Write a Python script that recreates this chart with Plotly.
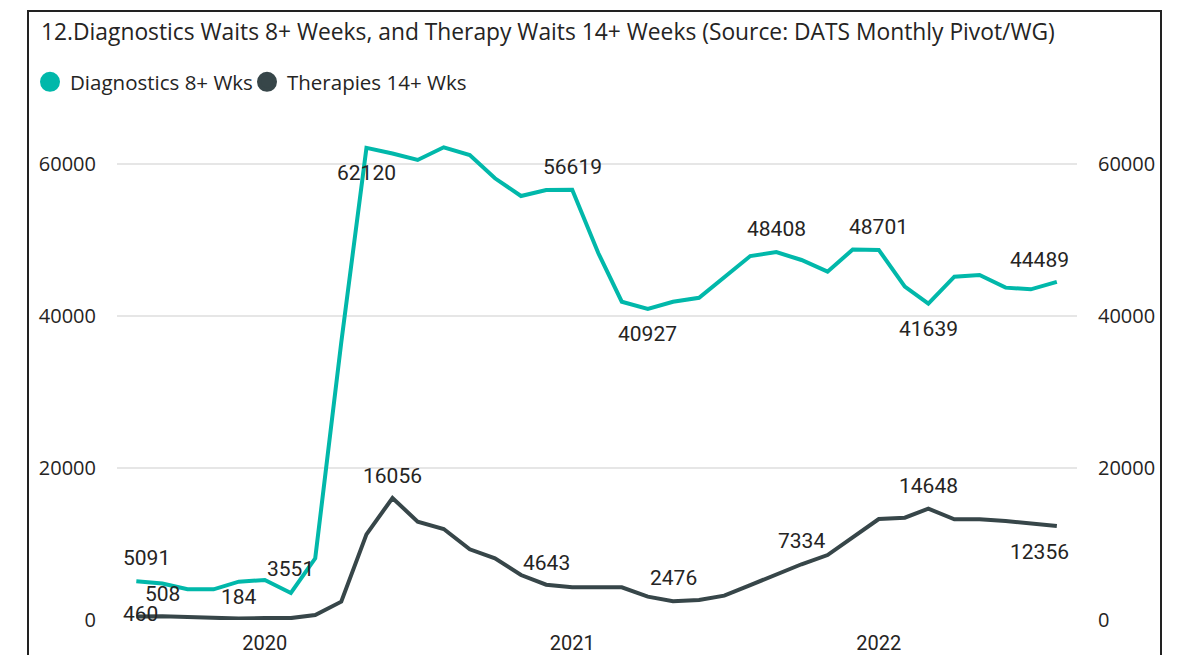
import pandas as pd
import plotly.graph_objects as go

# ---------------- data ----------------
months = pd.date_range("2019-08-01", periods=37, freq="MS")

diagnostics = [5091, 4800, 4040, 4040, 5040, 5260, 3551, 8110, 36500, 62120,
               61380, 60530, 62200, 61180, 58120, 55790, 56580, 56619, 48290, 41880,
               40927, 41880, 42400, 45170, 47890, 48408, 47370, 45830, 48750, 48701,
               43860, 41639, 45170, 45390, 43730, 43510, 44489]

therapies = [460, 508, 400, 250, 184, 250, 250, 650, 2410, 11270,
             16056, 12940, 11970, 9300, 8120, 5920, 4643, 4300, 4300, 4300,
             3070, 2476, 2630, 3200, 4600, 6050, 7334, 8550, 10880, 13290,
             13460, 14648, 13250, 13250, 13030, 12720, 12356]

diag_label_idx = [0, 6, 9, 17, 20, 25, 29, 31, 36]
ther_label_idx = [0, 1, 4, 10, 16, 21, 26, 31, 36]

y_ticks = [0, 20000, 40000, 60000]
series_names = ["Diagnostics 8+ Wks", "Therapies 14+ Wks"]
title_text = "12.Diagnostics Waits 8+ Weeks, and Therapy Waits 14+ Weeks (Source: DATS Monthly Pivot/WG)"

# ---------------- styles ----------------
TEAL = "#01B8AA"
DARK = "#374649"
TXT = "#252423"
UI_FONT = "Open Sans"
LBL_FONT = "Roboto"

# label placement (style): yshift / xshift in px
diag_label_pos = {0: (23, 10), 6: (24, 0), 9: (-25, 0), 17: (23, 0), 20: (-25, 0),
                  25: (23, 0), 29: (23, 0), 31: (-25, 0), 36: (22, -17)}
ther_label_pos = {0: (3, 4), 1: (22, 0), 4: (22, 0), 10: (22, 0), 16: (22, 0),
                  21: (23, 0), 26: (23, 0), 31: (23, 0), 36: (-26, -17)}

OFF = 8          # page offset of the figure inside the browser window
W, H = 1193, 655
plot_left, plot_right, plot_top, plot_bottom = 117 - OFF, 1077 - OFF, 120 - OFF, 620 - OFF
L, R, T, B = plot_left, W - plot_right, plot_top, H - plot_bottom
ymax = 65790

fig = go.Figure()
fig.add_trace(go.Scatter(x=months, y=diagnostics, mode="lines", name=series_names[0],
                         line=dict(color=TEAL, width=4), showlegend=False, yaxis="y"))
fig.add_trace(go.Scatter(x=months, y=therapies, mode="lines", name=series_names[1],
                         line=dict(color=DARK, width=4), showlegend=False, yaxis="y2"))
# legend entries (one legend each, so spacing can follow the reference)
for nm, col, lg in zip(series_names, [TEAL, DARK], ["legend", "legend2"]):
    fig.add_trace(go.Scatter(x=[None], y=[None], mode="markers", name=nm,
                             marker=dict(color=col, size=16, line=dict(color=col, width=4)),
                             showlegend=True, legend=lg))

annotations = []
for i in diag_label_idx:
    ys, xs = diag_label_pos[i]
    annotations.append(dict(x=months[i], y=diagnostics[i], xref="x", yref="y",
                            text=f"{diagnostics[i]}", showarrow=False,
                            yshift=ys, xshift=xs, yanchor="middle", xanchor="center",
                            font=dict(family=LBL_FONT, size=21, color=TXT)))
for i in ther_label_idx:
    ys, xs = ther_label_pos[i]
    annotations.append(dict(x=months[i], y=therapies[i], xref="x", yref="y2",
                            text=f"{therapies[i]}", showarrow=False,
                            yshift=ys, xshift=xs, yanchor="middle", xanchor="center",
                            font=dict(family=LBL_FONT, size=21, color=TXT)))

pw = W - L - R
ph = H - T - B
legend_common = dict(orientation="h", xref="container", yref="container",
                     xanchor="left", y=1 - (82 - OFF) / H, yanchor="middle",
                     font=dict(family=UI_FONT, size=20.5, color=TXT),
                     itemwidth=30, bgcolor="rgba(0,0,0,0)")
fig.update_layout(
    width=W, height=H,
    margin=dict(l=L, r=R, t=T, b=B, autoexpand=False),
    paper_bgcolor="white", plot_bgcolor="white",
    title=dict(text=title_text, xref="container", yref="container",
               x=(41 - OFF) / W, xanchor="left", y=1 - (32 - OFF) / H, yanchor="middle",
               font=dict(family=UI_FONT, size=22.8, color=TXT)),
    legend=dict(x=22 / W, **legend_common),
    legend2=dict(x=239 / W, **legend_common),
    xaxis=dict(type="date", range=["2019-07-09", "2022-08-25"],
               tick0="2020-01-01", dtick="M12", tickformat="%Y",
               showgrid=False, showline=False, zeroline=False, ticks="",
               ticklabelstandoff=9,
               tickfont=dict(family=LBL_FONT, size=20, color=TXT)),
    yaxis=dict(range=[0, ymax], tickvals=y_ticks, tickformat="d",
               showgrid=True, gridcolor="#E6E6E6",
               gridwidth=1.5, zeroline=False, showline=False, ticks="",
               ticklabelstandoff=20,
               tickfont=dict(family=UI_FONT, size=20, color=TXT)),
    yaxis2=dict(range=[0, ymax], tickvals=y_ticks, tickformat="d",
                overlaying="y", side="right",
                showgrid=False, zeroline=False, showline=False, ticks="",
                ticklabelstandoff=20,
                tickfont=dict(family=UI_FONT, size=20, color=TXT)),
    annotations=annotations,
    shapes=[dict(type="rect", xref="paper", yref="paper",
                 x0=(28 - OFF - L) / pw, x1=(1161 - OFF - L) / pw,
                 y0=-0.3, y1=(plot_bottom - (11 - OFF)) / ph,
                 line=dict(color="#222222", width=2), fillcolor="rgba(0,0,0,0)",
                 layer="above")],
    showlegend=True,
)

fig.write_html("out.html")
